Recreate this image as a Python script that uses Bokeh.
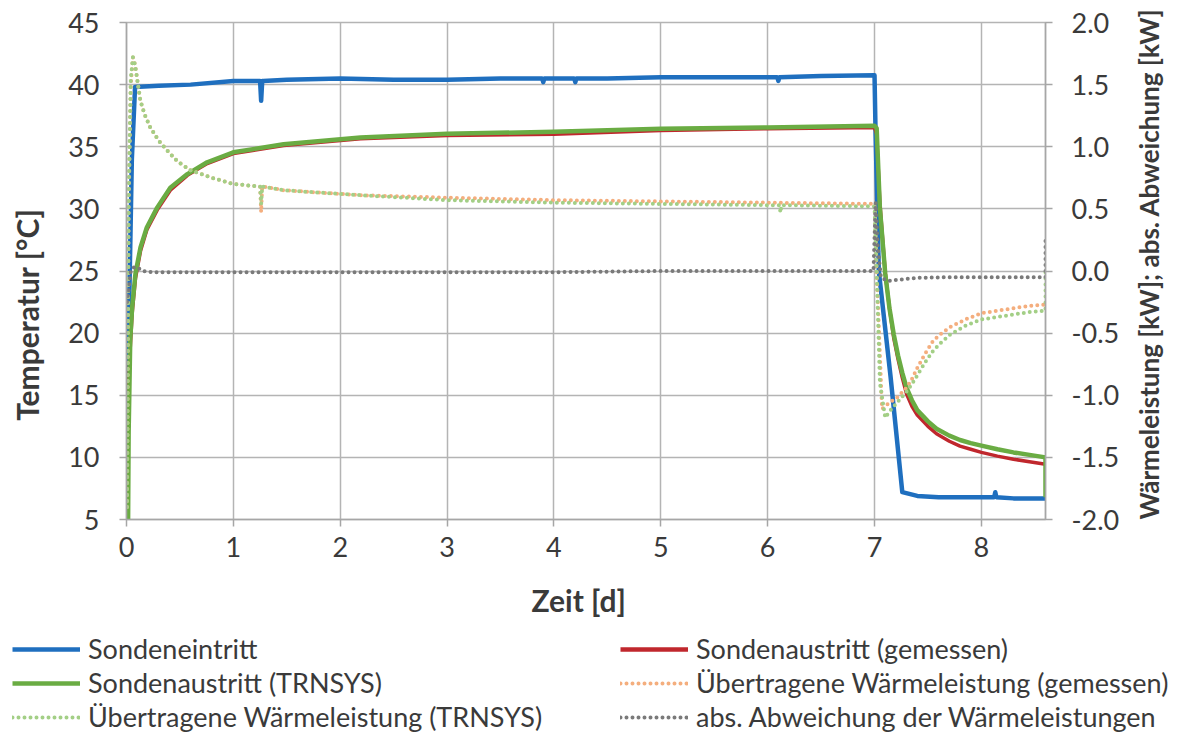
import math
from bokeh.plotting import figure
from bokeh.models import (Range1d, LinearAxis, SingleIntervalTicker, Legend, LegendItem,
                          NumeralTickFormatter)
from bokeh.embed import file_html
from bokeh.resources import INLINE

# ---------------- data ----------------
# Sondeneintritt [°C]
t_in = [0.0, 0.02, 0.05, 0.08, 0.3, 0.6, 1.0, 1.25, 1.26, 1.27, 1.28, 1.5, 2.0, 2.5, 3.0, 3.5,
        3.89, 3.9, 3.91, 4.0, 4.19, 4.2, 4.21, 4.5, 5.0, 5.5, 6.0, 6.09, 6.1, 6.11, 6.5, 7.0,
        7.01, 7.04, 7.15, 7.26, 7.4, 7.6, 8.0, 8.12, 8.13, 8.14, 8.3, 8.6]
T_in = [5.0, 20.0, 34.0, 39.8, 39.9, 40.0, 40.3, 40.3, 38.7, 40.3, 40.3, 40.4, 40.5, 40.4, 40.4, 40.5,
        40.5, 40.2, 40.5, 40.5, 40.5, 40.2, 40.5, 40.5, 40.6, 40.6, 40.6, 40.6, 40.3, 40.6, 40.7, 40.75,
        36.0, 25.0, 16.5, 7.2, 6.9, 6.8, 6.8, 6.8, 7.2, 6.8, 6.7, 6.7]

# Sondenaustritt (gemessen) [°C]
t_out_m = [0.01, 0.03, 0.053, 0.084, 0.131, 0.19, 0.287, 0.41, 0.57, 0.755, 1.0, 1.47, 2.19, 3.0,
           4.0, 5.0, 6.0, 7.0, 7.02, 7.05, 7.1, 7.14, 7.18, 7.22, 7.26, 7.3, 7.35, 7.4, 7.5, 7.58,
           7.7, 7.8, 7.9, 8.0, 8.15, 8.3, 8.45, 8.6]
T_out_m = [13.9, 18.0, 21.6, 24.4, 26.6, 28.3, 29.9, 31.5, 32.7, 33.65, 34.45, 35.1, 35.65, 35.9,
           36.0, 36.3, 36.45, 36.55, 36.0, 30.5, 24.9, 22.0, 19.6, 17.9, 16.4, 15.1, 14.1, 13.4, 12.5, 11.9,
           11.3, 10.9, 10.65, 10.4, 10.1, 9.85, 9.65, 9.45]

# Sondenaustritt (TRNSYS) [°C]
t_out_s = [0.015, 0.02, 0.035, 0.053, 0.084, 0.131, 0.19, 0.287, 0.41, 0.57, 0.755, 1.0, 1.47, 2.19,
           3.0, 4.0, 5.0, 6.0, 7.0, 7.02, 7.05, 7.1, 7.14, 7.18, 7.22, 7.26, 7.3, 7.35, 7.4, 7.5, 7.58,
           7.7, 7.8, 7.9, 8.0, 8.15, 8.3, 8.45, 8.6, 8.6]
T_out_s = [5.0, 12.0, 19.5, 22.1, 24.8, 26.9, 28.5, 30.1, 31.7, 32.8, 33.75, 34.55, 35.2, 35.75,
           36.05, 36.2, 36.45, 36.55, 36.7, 36.5, 30.1, 24.8, 22.0, 19.9, 18.2, 16.8, 15.6, 14.6, 13.8, 12.9,
           12.3, 11.75, 11.4, 11.15, 10.95, 10.65, 10.4, 10.2, 10.0, 6.8]

# Übertragene Wärmeleistung (gemessen) [kW]
t_q_m = [0.005, 0.02, 0.04, 0.06, 0.08, 0.13, 0.17, 0.22, 0.3, 0.38, 0.48, 0.6, 0.8, 1.0, 1.25, 1.26,
         1.27, 1.47, 2.19, 3.0, 4.0, 5.0, 6.0, 7.0, 7.02, 7.07, 7.14, 7.21, 7.3, 7.35, 7.4, 7.47, 7.55,
         7.63, 7.71, 7.85, 8.0, 8.15, 8.3, 8.45, 8.6]
q_m = [-1.9, 0.5, 1.5, 1.72, 1.66, 1.37, 1.26, 1.16, 1.05, 0.97, 0.88, 0.81, 0.75, 0.70, 0.68, 0.475,
       0.68, 0.65, 0.61, 0.59, 0.57, 0.56, 0.55, 0.54, 0.0, -1.11, -1.06, -1.02, -0.94, -0.87, -0.78,
       -0.67, -0.56, -0.50, -0.45, -0.39, -0.34, -0.32, -0.30, -0.28, -0.27]

# Übertragene Wärmeleistung (TRNSYS) [kW]
t_q_s = [0.005, 0.02, 0.04, 0.06, 0.08, 0.13, 0.17, 0.22, 0.3, 0.38, 0.48, 0.6, 0.8, 1.0, 1.25, 1.26,
         1.27, 1.47, 2.19, 3.0, 4.0, 5.0, 6.0, 6.11, 6.12, 6.13, 7.0, 7.02, 7.05, 7.1, 7.15, 7.21, 7.3,
         7.35, 7.4, 7.47, 7.55, 7.63, 7.71, 7.85, 8.0, 8.15, 8.3, 8.45, 8.6, 8.6]
q_s = [-1.9, 0.6, 1.55, 1.72, 1.66, 1.37, 1.26, 1.16, 1.05, 0.97, 0.88, 0.81, 0.75, 0.70, 0.68, 0.54,
       0.68, 0.65, 0.61, 0.57, 0.55, 0.54, 0.53, 0.53, 0.47, 0.53, 0.52, 0.0, -0.9, -1.18, -1.12, -1.06,
       -0.97, -0.91, -0.84, -0.74, -0.64, -0.57, -0.51, -0.44, -0.39, -0.37, -0.35, -0.33, -0.32, 0.0]

# abs. Abweichung der Wärmeleistungen [kW]
t_dq = [0.005, 0.02, 0.04, 0.07, 0.1, 0.15, 0.25, 1.0, 2.0, 3.0, 4.0, 5.0, 6.0, 6.99, 7.01, 7.03,
        7.06, 7.12, 7.4, 7.7, 8.0, 8.3, 8.6, 8.6]
dq = [-0.25, -0.15, 0.0, 0.03, 0.03, 0.0, -0.01, -0.01, -0.01, -0.01, -0.01, 0.0, 0.0, 0.0, 0.55, 0.2,
      -0.05, -0.08, -0.055, -0.05, -0.05, -0.05, -0.05, 0.25]

x_ticks_interval = 1
y_left_interval = 5
y_right_interval = 0.5

labels = ["Sondeneintritt", "Sondenaustritt (gemessen)", "Sondenaustritt (TRNSYS)",
          "Übertragene Wärmeleistung (gemessen)", "Übertragene Wärmeleistung (TRNSYS)",
          "abs. Abweichung der Wärmeleistungen"]

# ---------------- styling ----------------
FONT = "Lato"
TXT = "#3a3a3a"
GRID = "#b4b4b4"
AXC = "#a6a6a6"
C_BLUE = "#1f6fbf"
C_RED = "#c0272d"
C_GREEN = "#6aac43"
C_LGREEN = "#a3cf86"
C_ORANGE = "#f4ae7e"
C_GRAY = "#7a7a7a"
NB = "\u00a0"  # non-breaking space, used only to nudge the axis titles off-centre as in the original

p = figure(width=1186, height=633, output_backend="svg", toolbar_location=None,
           x_range=Range1d(0, 8.6), y_range=Range1d(5, 45),
           min_border_left=126, min_border_right=141, min_border_top=22, min_border_bottom=114)
p.extra_y_ranges = {"kw": Range1d(-2, 2)}
p.background_fill_color = "white"
p.border_fill_color = "white"
p.outline_line_color = GRID
p.outline_line_width = 1.5


def style_axis(ax):
    ax.axis_line_color = AXC
    ax.axis_line_width = 1.5
    ax.major_tick_line_color = AXC
    ax.major_tick_line_width = 1.5
    ax.major_tick_out = 7
    ax.major_tick_in = 0
    ax.minor_tick_line_color = None
    ax.major_label_text_font = FONT
    ax.major_label_text_font_size = "27px"
    ax.major_label_text_color = TXT
    ax.axis_label_text_font = FONT
    ax.axis_label_text_font_size = "30px"
    ax.axis_label_text_font_style = "bold"
    ax.axis_label_text_color = TXT


style_axis(p.xaxis[0])
style_axis(p.yaxis[0])
p.xaxis.ticker = SingleIntervalTicker(interval=x_ticks_interval)
p.yaxis.ticker = SingleIntervalTicker(interval=y_left_interval)
p.xaxis.axis_label = "Zeit [d]" + NB * 2
p.yaxis.axis_label = "Temperatur [°C]" + NB * 12
p.xaxis.major_label_standoff = 10
p.xaxis.axis_label_standoff = 22
p.yaxis.major_label_standoff = 20
p.yaxis.axis_label_standoff = 20

yr = LinearAxis(y_range_name="kw", ticker=SingleIntervalTicker(interval=y_right_interval),
                formatter=NumeralTickFormatter(format="0.0"),
                axis_label="Wärmeleistung [kW]; abs. Abweichung [kW]")
style_axis(yr)
yr.axis_label_text_font_size = "26px"
yr.axis_label_orientation = math.pi / 2
if "axis_label_align" in yr.properties():
    yr.axis_label_align = "start"
yr.major_label_standoff = 19
yr.axis_label_standoff = 27
p.add_layout(yr, "right")

p.xgrid.grid_line_color = GRID
p.ygrid.grid_line_color = GRID
p.xgrid.grid_line_width = 1.5
p.ygrid.grid_line_width = 1.5
p.xgrid.ticker = SingleIntervalTicker(interval=x_ticks_interval)
p.ygrid.ticker = SingleIntervalTicker(interval=y_left_interval)

solid = dict(line_join="round")
dotted = dict(line_width=4, line_dash="0 6", line_cap="round")

p.line(t_in, T_in, line_color=C_BLUE, line_width=4.5, **solid)
p.line(t_out_m, T_out_m, line_color=C_RED, line_width=3.5, **solid)
p.line(t_out_s, T_out_s, line_color=C_GREEN, line_width=4.5, **solid)
p.line(t_q_m, q_m, y_range_name="kw", line_color=C_ORANGE, **dotted)
p.line(t_q_s, q_s, y_range_name="kw", line_color=C_LGREEN, **dotted)
p.line(t_dq, dq, y_range_name="kw", line_color=C_GRAY, **dotted)

# ---------------- legend strip below the chart (second root) ----------------
lg = figure(width=1186, height=100, output_backend="svg", toolbar_location=None,
            x_range=Range1d(0, 1), y_range=Range1d(0, 1), min_border=0,
            x_axis_location=None, y_axis_location=None)
lg.outline_line_color = None
lg.grid.visible = False
lg.background_fill_color = "white"
lg.border_fill_color = "white"

off = ([5, 6], [5, 6])  # legend-only renderers, kept outside the visible range
d_in = lg.line(*off, line_color=C_BLUE, line_width=4.5)
d_om = lg.line(*off, line_color=C_RED, line_width=4.5)
d_os = lg.line(*off, line_color=C_GREEN, line_width=4.5)
d_qm = lg.line(*off, line_color=C_ORANGE, **dotted)
d_qs = lg.line(*off, line_color=C_LGREEN, **dotted)
d_dq = lg.line(*off, line_color=C_GRAY, **dotted)


def make_legend(items, x):
    return Legend(items=items, location=(x, 0), orientation="vertical",
                  glyph_width=68, glyph_height=30, label_height=30, spacing=1,
                  label_standoff=8, padding=0, margin=0,
                  label_text_font=FONT, label_text_font_size="27px", label_text_color=TXT,
                  border_line_color=None, background_fill_alpha=0)


lg.add_layout(make_legend([LegendItem(label=labels[0], renderers=[d_in]),
                           LegendItem(label=labels[2], renderers=[d_os]),
                           LegendItem(label=labels[4], renderers=[d_qs])], 12))
lg.add_layout(make_legend([LegendItem(label=labels[1], renderers=[d_om]),
                           LegendItem(label=labels[3], renderers=[d_qm]),
                           LegendItem(label=labels[5], renderers=[d_dq])], 620))

open("out.html", "w").write(file_html([p, lg], INLINE))
